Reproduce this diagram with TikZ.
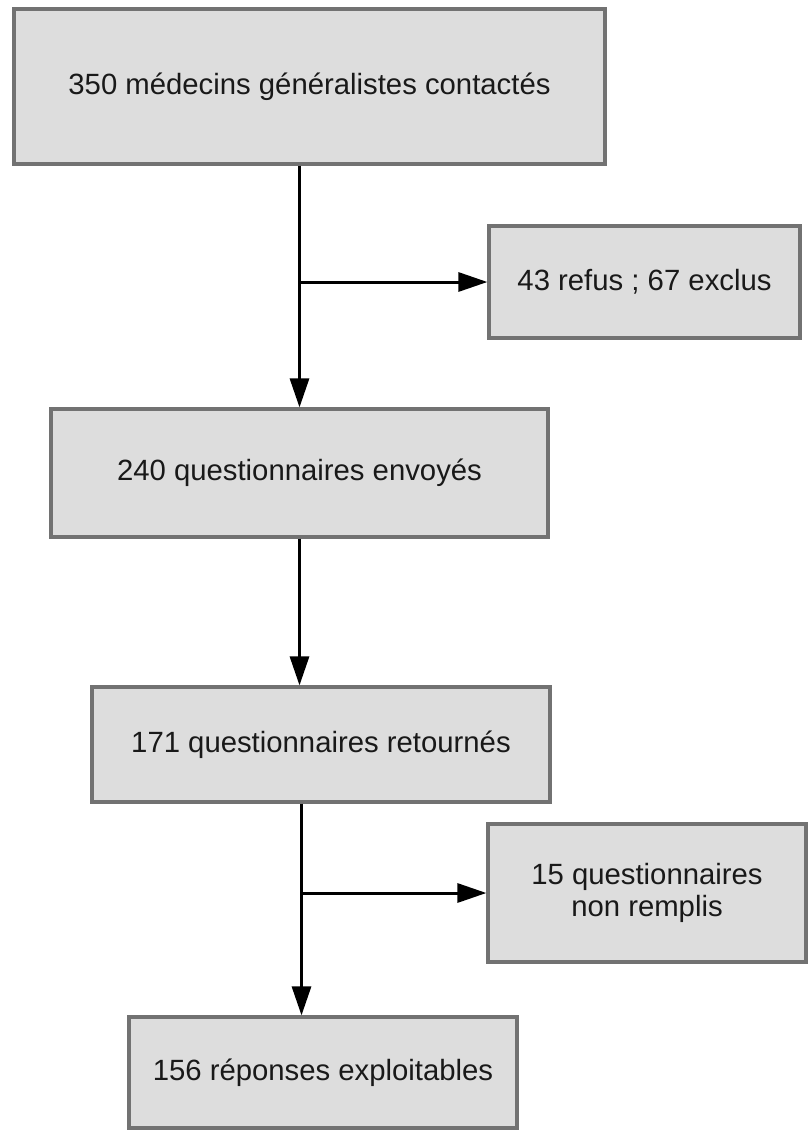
\documentclass[tikz,border=0pt]{standalone}
\usepackage{fontspec}
\setmainfont{Liberation Sans}
\usetikzlibrary{positioning,arrows.meta}
\definecolor{boxfill}{HTML}{DDDDDD}
\definecolor{boxline}{HTML}{727272}

\begin{document}
\begin{tikzpicture}[
  x=1pt, y=1pt,
  every node/.style={font=\fontsize{29.3}{32}\selectfont, text=black!90},
  boxes/.style={rectangle,draw=boxline,line width=3.2pt,fill=boxfill,align=center,inner sep=0pt,on grid},
  flow/.style={line width=3pt,-{Triangle[length=29pt,width=19pt]}},
]
\useasboundingbox (0,0) rectangle (809,-1133);

\node (contactes) [boxes, minimum width=591pt, minimum height=155pt] at (309.5,-86.5) {350 médecins généralistes contactés};

\node (exclus) [boxes, minimum width=311pt, minimum height=112pt, below right=195.5pt and 335pt of contactes] {43 refus ; 67 exclus};

\node (envoyes) [boxes, minimum width=497pt, minimum height=128pt, below=386.5pt of contactes, xshift=-10pt] {240 questionnaires envoyés};

\node (retournes) [boxes, minimum width=458pt, minimum height=115pt, below=271.5pt of envoyes, xshift=21.5pt] {171 questionnaires retournés};

\node (remplis) [boxes, minimum width=318pt, minimum height=138pt, below right=148.5pt and 326pt of retournes] {15 questionnaires\\non remplis};

\node (reponses) [boxes, minimum width=388pt, minimum height=111pt, below=328pt of retournes, xshift=2pt] {156 réponses exploitables};

\draw[flow] (envoyes.north |- contactes.south) to (envoyes.north);
\draw[flow] (exclus.west -| envoyes.north) to (exclus.west);
\draw[flow] (envoyes.south) to (envoyes.south |- retournes.north);
\coordinate (trunk) at ([xshift=2pt]envoyes.south |- retournes.south);
\draw[flow] (trunk) to (trunk |- reponses.north);
\draw[flow] (remplis.west -| trunk) to (remplis.west);
\end{tikzpicture}
\end{document}
